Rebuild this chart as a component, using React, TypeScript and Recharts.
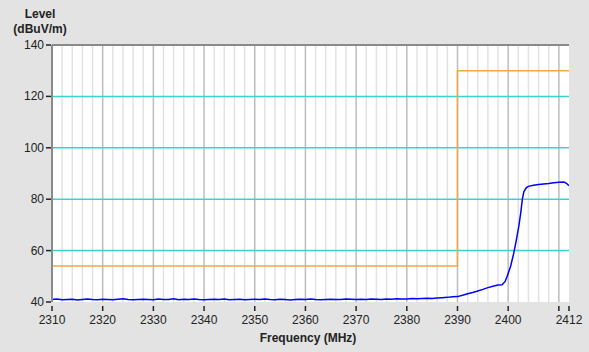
import { LineChart, Line, XAxis, YAxis, CartesianGrid, ReferenceLine } from "recharts";

const traceFreq = [
  2310, 2311, 2312, 2313, 2314, 2315, 2316, 2317, 2318, 2319,
  2320, 2321, 2322, 2323, 2324, 2325, 2326, 2327, 2328, 2329,
  2330, 2331, 2332, 2333, 2334, 2335, 2336, 2337, 2338, 2339,
  2340, 2341, 2342, 2343, 2344, 2345, 2346, 2347, 2348, 2349,
  2350, 2351, 2352, 2353, 2354, 2355, 2356, 2357, 2358, 2359,
  2360, 2361, 2362, 2363, 2364, 2365, 2366, 2367, 2368, 2369,
  2370, 2371, 2372, 2373, 2374, 2375, 2376, 2377, 2378, 2379,
  2380, 2381, 2382, 2383, 2384, 2385, 2386,
  2387, 2388, 2389, 2390, 2391, 2392, 2393, 2394, 2395, 2396,
  2397, 2398, 2398.8, 2399.4, 2399.8, 2400.5, 2401.1, 2401.6, 2402.1, 2402.5,
  2402.8, 2403.1, 2403.6, 2404, 2405, 2406, 2407, 2408, 2409, 2410,
  2411, 2411.5, 2412,
];

const traceLevel = [
  41.0, 41.2, 40.9, 41.0, 41.1, 40.8, 41.0, 41.2, 41.0, 40.9,
  41.1, 41.0, 40.9, 41.1, 41.3, 41.0, 40.9, 41.0, 41.1, 41.0,
  40.9, 41.2, 41.0, 41.0, 41.3, 40.9, 41.1, 41.0, 41.2, 41.0,
  40.9, 41.0, 41.1, 41.0, 41.2, 40.9, 41.0, 41.1, 40.9, 41.0,
  41.1, 41.0, 41.2, 41.0, 40.9, 41.1, 41.0, 40.8, 41.0, 41.1,
  41.0, 41.2, 41.0, 40.9, 41.0, 41.1, 41.0, 41.0, 41.2, 41.1,
  41.0, 41.1, 41.0, 41.2, 41.1, 41.0, 41.2, 41.1, 41.3, 41.2,
  41.2, 41.4, 41.3, 41.4, 41.5, 41.4, 41.6,
  41.7, 41.8, 42.0, 42.1, 42.6, 43.2, 43.7, 44.3, 44.9, 45.6,
  46.1, 46.6, 46.7, 48.0, 50.0, 54.0, 59.0, 64.0, 69.5, 75.0,
  80.0, 83.0, 84.5, 85.0, 85.4, 85.7, 85.9, 86.1, 86.4, 86.6,
  86.7, 86.2, 85.2,
];

const limitFreq = [2310, 2390, 2412];
const limitLevel = [54, 130, 130];

const xTicks = [2310, 2320, 2330, 2340, 2350, 2360, 2370, 2380, 2390, 2400, 2410, 2412];
const yTicks = [40, 60, 80, 100, 120, 140];
const minorGrid = [
  2312, 2314, 2316, 2318, 2322, 2324, 2326, 2328, 2332, 2334, 2336, 2338,
  2342, 2344, 2346, 2348, 2352, 2354, 2356, 2358, 2362, 2364, 2366, 2368,
  2372, 2374, 2376, 2378, 2382, 2384, 2386, 2388, 2392, 2394, 2396, 2398,
  2402, 2404, 2406, 2408,
];
const majorGrid = [2320, 2330, 2340, 2350, 2360, 2370, 2380, 2390, 2400, 2410];
const levelGrid = [60, 80, 100, 120];

const trace = traceFreq.map((f, i) => ({ f, v: traceLevel[i] }));
const limit = limitFreq.map((f, i) => ({ f, v: limitLevel[i] }));

const font = "'Liberation Sans', Arial, sans-serif";

function XTick({ x, y, payload }: any) {
  return (
    <g>
      <line x1={x} x2={x} y1={y + 4} y2={y + 9} stroke="#222" strokeWidth={1.5} />
      {payload.value !== 2410 && (
        <text x={x} y={y + 22} textAnchor="middle" fontSize={12} fill="#222" fontFamily={font}>
          {payload.value}
        </text>
      )}
    </g>
  );
}

function YTick({ x, y, payload }: any) {
  return (
    <g>
      <line x1={x - 6} x2={x - 1} y1={y} y2={y} stroke="#222" strokeWidth={1.5} />
      <text x={x - 8} y={y + 4} textAnchor="end" fontSize={12} fill="#222" fontFamily={font}>
        {payload.value}
      </text>
    </g>
  );
}

export default function App() {
  return (
    <div style={{ position: "absolute", left: 0, top: 0, width: 589, height: 352, background: "#e3e3e3" }}>
      <LineChart width={589} height={352} margin={{ top: 45, right: 20, left: 0, bottom: 0 }}>
        <CartesianGrid horizontal={false} vertical={false} fill="#ffffff" stroke="none" />
        {minorGrid.map((g) => (
          <ReferenceLine key={"m" + g} x={g} stroke="#e2e2e2" strokeWidth={1.5} />
        ))}
        {majorGrid.map((g) => (
          <ReferenceLine key={"M" + g} x={g} stroke="#bcbcbc" strokeWidth={1.5} />
        ))}
        {levelGrid.map((g) => (
          <ReferenceLine key={"h" + g} y={g} stroke="#38d4d4" strokeWidth={1.5} />
        ))}
        <ReferenceLine y={140} stroke="#8a8a8a" strokeWidth={2} />
        <XAxis
          dataKey="f"
          type="number"
          domain={[2310, 2412]}
          ticks={xTicks}
          allowDataOverflow
          axisLine={false}
          tickLine={false}
          tickSize={0}
          tickMargin={0}
          height={50}
          tick={<XTick />}
          interval={0}
        />
        <YAxis
          type="number"
          domain={[40, 140]}
          ticks={yTicks}
          width={52}
          axisLine={{ stroke: "#8a8a8a", strokeWidth: 2 }}
          tickLine={false}
          tickSize={0}
          tickMargin={0}
          tick={<YTick />}
          interval={0}
        />
        <Line
          data={limit}
          dataKey="v"
          type="stepAfter"
          stroke="#f5a742"
          strokeWidth={1.5}
          dot={false}
          isAnimationActive={false}
        />
        <Line
          data={trace}
          dataKey="v"
          type="linear"
          stroke="#0000ff"
          strokeWidth={1.5}
          dot={false}
          isAnimationActive={false}
        />
      </LineChart>
      <div style={{ position: "absolute", left: 0, top: 7, width: 80, textAlign: "center", font: `bold 12px ${font}`, color: "#222", lineHeight: "15px" }}>
        Level
        <br />
        (dBuV/m)
      </div>
      <div style={{ position: "absolute", left: 200, top: 331, width: 216, textAlign: "center", font: `bold 12px ${font}`, color: "#222" }}>
        Frequency (MHz)
      </div>
    </div>
  );
}
